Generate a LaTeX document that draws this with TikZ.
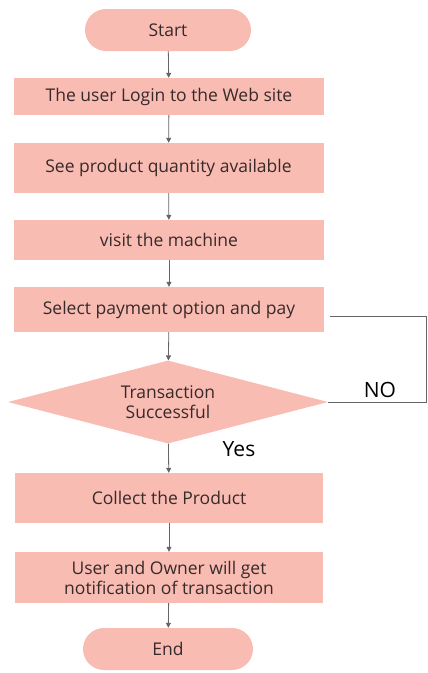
\documentclass[tikz,border=0pt]{standalone}
\usepackage{fontspec}
\setmainfont{Open Sans}
\usepackage{tikz}
\usetikzlibrary{arrows.meta,calc,positioning,shapes.misc,shapes.geometric}
\definecolor{boxc}{RGB}{249,188,179}
\definecolor{txtc}{RGB}{55,42,42}
\definecolor{arrc}{RGB}{100,100,105}

\begin{document}
\begin{tikzpicture}[x=1pt,y=1pt,
  stepbox/.style={draw=none,fill=boxc,rectangle,minimum width=310pt,text=txtc,font=\fontsize{17.5}{20}\selectfont,align=center,inner sep=0pt},
  termbox/.style={stepbox,rounded rectangle,minimum width=166pt,minimum height=42pt},
  decbox/.style={stepbox,diamond,minimum width=320pt,minimum height=83pt,aspect=3.8},
  flow/.style={draw=arrc,line width=0.8pt,-{Triangle[length=5pt,width=5pt]}}]
  \useasboundingbox (0,0) rectangle (428,-673);
  \node[termbox] (start) at (168,-30) {Start};
  \node[stepbox,minimum height=37pt] (login) at (169,-96.5) {The user Login to the Web site};
  \node[stepbox,minimum height=50pt] (product) at (168.5,-168) {See product quantity available};
  \node[stepbox,minimum height=40pt] (visit) at (169,-240) {visit the machine};
  \node[stepbox,minimum height=45pt] (pay) at (169,-309.5) {Select payment option and pay};
  \node[decbox] (check) at (168,-402) {Transaction\\Successful};
  \node[stepbox,minimum width=308pt,minimum height=50pt] (collect) at (169,-498) {Collect the Product};
  \node[stepbox,minimum width=308pt,minimum height=51pt] (notify) at (169,-577.5) {User and Owner will get\\notification of transaction};
  \node[termbox,minimum width=170pt] (finish) at (168,-649) {End};
  \draw[flow] (start) -- (login);
  \draw[flow] (login) -- (product);
  \draw[flow] (product) -- (visit);
  \draw[flow] (visit) -- (pay);
  \draw[flow] (pay) -- (check);
  \draw[flow] (check) -- (collect);
  \draw[flow] (collect) -- (notify);
  \draw[flow] (notify) -- (finish);
  % return path when the payment fails
  \coordinate (nocorner) at (426,-402);
  \coordinate (backcorner) at (426,-316);
  \coordinate (backend) at (330,-316);
  \draw[arrc,line width=0.6pt] (check.east) -- (nocorner) -- (backcorner) -- (backend);
  \node[font=\fontsize{21}{24}\selectfont] (nolabel) at (380,-390) {NO};
  \node[font=\fontsize{21}{24}\selectfont] (yeslabel) at (239,-449) {Yes};
\end{tikzpicture}
\end{document}
